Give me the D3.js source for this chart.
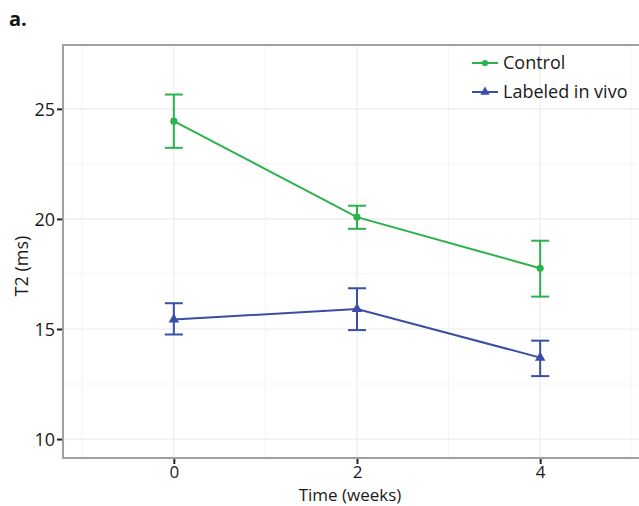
<!DOCTYPE html>
<html>
<head>
<meta charset="utf-8">
<script src="https://cdn.jsdelivr.net/npm/d3@7"></script>
<style>
  body { margin: 0; background: #fff; }
  svg { display: block; font-family: "Open Sans", "Noto Sans", sans-serif; }
</style>
</head>
<body>
<svg class="chart" width="639" height="506"></svg>
<script>
// Values.
var weeks = [0, 2, 4];
var seriesNames = ["Control", "Labeled in vivo"];
var controlMean = [24.44, 20.08, 17.76];
var controlLow = [23.23, 19.55, 16.47];
var controlHigh = [25.65, 20.6, 19.01];
var labeledMean = [15.43, 15.91, 13.7];
var labeledLow = [14.75, 14.95, 12.86];
var labeledHigh = [16.17, 16.85, 14.47];
var xTicks = [0, 2, 4];
var yTicks = [10, 15, 20, 25];

window.onload = function () {
    var svg = d3.select("svg.chart");

    var left = 63, top = 45, right = 651, bottom = 458;

    var x = d3.scaleLinear().domain([-1.21, 5.21]).range([left, right]);
    var y = d3.scaleLinear().domain([9.14, 27.9]).range([bottom, top]);

    var colors = { "Control": "#2bb24c", "Labeled in vivo": "#3a4ea6" };

    var series = [
        { name: seriesNames[0], mean: controlMean, low: controlLow, high: controlHigh, shape: d3.symbolCircle },
        { name: seriesNames[1], mean: labeledMean, low: labeledLow, high: labeledHigh, shape: d3.symbolTriangle }
    ];

    // grid: minor first, then major
    var minorY = d3.range(12.5, 27.5, 5);
    var minorX = [-1, 1, 3, 5];
    svg.append("g").selectAll("line").data(minorY).enter().append("line")
        .attr("x1", left).attr("x2", right)
        .attr("y1", d => y(d)).attr("y2", d => y(d))
        .attr("stroke", "#f4f4f4").attr("stroke-width", 1);
    svg.append("g").selectAll("line").data(minorX).enter().append("line")
        .attr("y1", top).attr("y2", bottom)
        .attr("x1", d => x(d)).attr("x2", d => x(d))
        .attr("stroke", "#f4f4f4").attr("stroke-width", 1);
    svg.append("g").selectAll("line").data(yTicks).enter().append("line")
        .attr("x1", left).attr("x2", right)
        .attr("y1", d => y(d)).attr("y2", d => y(d))
        .attr("stroke", "#ececec").attr("stroke-width", 1.2);
    svg.append("g").selectAll("line").data(xTicks).enter().append("line")
        .attr("y1", top).attr("y2", bottom)
        .attr("x1", d => x(d)).attr("x2", d => x(d))
        .attr("stroke", "#ececec").attr("stroke-width", 1.2);

    // panel border
    svg.append("rect")
        .attr("x", left).attr("y", top)
        .attr("width", right - left).attr("height", bottom - top)
        .attr("fill", "none").attr("stroke", "#a0a0a0").attr("stroke-width", 2);

    // axes
    var xAxis = svg.append("g")
        .attr("transform", "translate(0," + (bottom + 1) + ")")
        .call(d3.axisBottom(x).tickValues(xTicks).tickFormat(d3.format("d")).tickSize(5).tickPadding(2));
    var yAxis = svg.append("g")
        .attr("transform", "translate(" + (left - 1) + ",0)")
        .call(d3.axisLeft(y).tickValues(yTicks).tickFormat(d3.format("d")).tickSize(5).tickPadding(2));
    [xAxis, yAxis].forEach(function (a) {
        a.select(".domain").remove();
        a.selectAll(".tick line").attr("stroke", "#222").attr("stroke-width", 2);
        a.selectAll(".tick text").attr("font-size", 18).attr("fill", "#1a1a1a")
            .attr("font-family", "'Open Sans', sans-serif");
    });
    yAxis.selectAll(".tick text").attr("dy", "0.36em");
    xAxis.selectAll(".tick text").attr("font-size", 17).attr("dy", "0.71em");

    svg.append("text")
        .attr("x", 350).attr("y", 501)
        .attr("text-anchor", "middle").attr("font-size", 17).attr("fill", "#1a1a1a")
        .text("Time (weeks)");
    svg.append("text")
        .attr("transform", "translate(28,266) rotate(-90)")
        .attr("text-anchor", "middle").attr("font-size", 18).attr("fill", "#1a1a1a")
        .text("T2 (ms)");
    svg.append("text")
        .attr("x", 9).attr("y", 26)
        .attr("font-size", 20).attr("font-weight", "bold").attr("fill", "#111")
        .text("a.");

    var line = d3.line().x(d => x(d.t)).y(d => y(d.v));

    series.forEach(function (s) {
        var c = colors[s.name];
        var pts = weeks.map((t, i) => ({ t: t, v: s.mean[i], lo: s.low[i], hi: s.high[i] }));
        var g = svg.append("g");

        g.append("path").datum(pts)
            .attr("d", line).attr("fill", "none")
            .attr("stroke", c).attr("stroke-width", 2);

        var eb = g.selectAll("g.err").data(pts).enter().append("g");
        eb.append("line")
            .attr("x1", d => x(d.t)).attr("x2", d => x(d.t))
            .attr("y1", d => y(d.lo)).attr("y2", d => y(d.hi))
            .attr("stroke", c).attr("stroke-width", 2);
        eb.append("line")
            .attr("x1", d => x(d.t) - 9).attr("x2", d => x(d.t) + 9)
            .attr("y1", d => y(d.lo)).attr("y2", d => y(d.lo))
            .attr("stroke", c).attr("stroke-width", 2);
        eb.append("line")
            .attr("x1", d => x(d.t) - 9).attr("x2", d => x(d.t) + 9)
            .attr("y1", d => y(d.hi)).attr("y2", d => y(d.hi))
            .attr("stroke", c).attr("stroke-width", 2);

        g.selectAll("path.pt").data(pts).enter().append("path")
            .attr("transform", d => "translate(" + x(d.t) + "," + y(d.v) + ")")
            .attr("d", d3.symbol().type(s.shape).size(s.shape === d3.symbolCircle ? 40 : 48))
            .attr("fill", c);
    });

    // legend
    var legend = svg.append("g").attr("transform", "translate(472,63)");
    series.forEach(function (s, i) {
        var row = legend.append("g").attr("transform", "translate(0," + (i * 29) + ")");
        var c = colors[s.name];
        row.append("line").attr("x1", 0).attr("x2", 26)
            .attr("stroke", c).attr("stroke-width", 2);
        row.append("path").attr("transform", "translate(13,0)")
            .attr("d", d3.symbol().type(s.shape).size(s.shape === d3.symbolCircle ? 30 : 38))
            .attr("fill", c);
        row.append("text").attr("x", 31).attr("dy", "0.36em")
            .attr("font-size", 18).attr("fill", "#1a1a1a")
            .text(s.name);
    });
};
</script>
</body>
</html>
